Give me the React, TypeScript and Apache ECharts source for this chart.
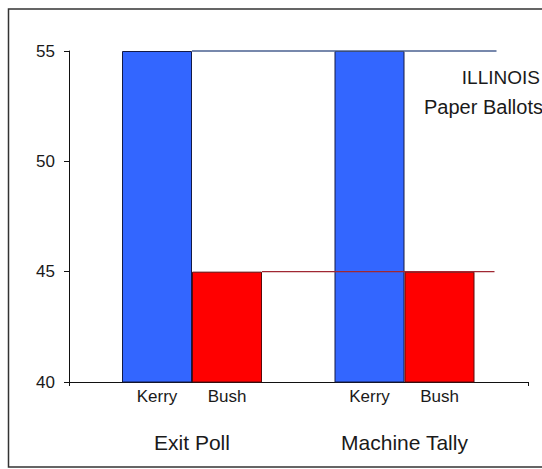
import React, { useEffect, useRef } from "react";
import * as echarts from "echarts";

const categories = ["Exit Poll", "Machine Tally"];
const seriesNames = ["Kerry", "Bush"];
const kerryValues = [55, 55];
const bushValues = [45, 45];
const yMin = 40;
const yMax = 55;
const yStep = 5;
const noteLines = ["ILLINOIS", "Paper Ballots"];

const FONT = "'Liberation Sans', Arial, sans-serif";
const TEXT = "#1a1a1a";

export default function App() {
  const ref = useRef<HTMLDivElement>(null);

  useEffect(() => {
    if (!ref.current) return;
    const chart = echarts.init(ref.current, undefined, { renderer: "svg" });
    const barLabel = {
      show: true,
      position: "bottom",
      distance: 5,
      formatter: "{a}",
      fontSize: 17,
      color: TEXT,
      fontFamily: FONT,
    };
    chart.setOption({
      animation: false,
      textStyle: { fontFamily: FONT },
      grid: [
        { left: 69, right: 14, top: 51, bottom: 87 },
        { left: 85.75, right: 31.25, top: 51, bottom: 87 },
      ],
      xAxis: [
        {
          gridIndex: 0,
          type: "value",
          min: 0,
          max: 1,
          interval: 1,
          axisLine: { show: true, lineStyle: { color: "#111", width: 1 } },
          axisTick: { show: true, length: 4, lineStyle: { color: "#111" } },
          axisLabel: { show: false },
          splitLine: { show: false },
        },
        {
          gridIndex: 1,
          type: "category",
          data: categories,
          axisLine: { show: false },
          axisTick: { show: false },
          axisLabel: { margin: 50, fontSize: 21, color: TEXT, fontFamily: FONT },
          splitLine: { show: false },
        },
      ],
      yAxis: [
        {
          gridIndex: 0,
          type: "value",
          min: yMin,
          max: yMax,
          interval: yStep,
          axisLine: { show: true, lineStyle: { color: "#111", width: 1 } },
          axisTick: { show: true, length: 5, lineStyle: { color: "#111" } },
          axisLabel: { fontSize: 17, margin: 14, color: TEXT, fontFamily: FONT },
          splitLine: { show: false },
        },
        { gridIndex: 1, type: "value", min: yMin, max: yMax, show: false },
      ],
      series: [
        {
          type: "bar",
          name: seriesNames[0],
          xAxisIndex: 1,
          yAxisIndex: 1,
          data: kerryValues,
          barWidth: 70,
          barGap: "0%",
          itemStyle: { color: "#3366ff", borderColor: "#141a45", borderWidth: 1 },
          label: barLabel,
        },
        {
          type: "bar",
          name: seriesNames[1],
          xAxisIndex: 1,
          yAxisIndex: 1,
          data: bushValues,
          barWidth: 70,
          barGap: "0%",
          itemStyle: { color: "#ff0000", borderColor: "#5a0a0a", borderWidth: 1 },
          label: barLabel,
        },
      ],
    });

    const c0 = chart.convertToPixel({ xAxisIndex: 1 }, categories[0]) as number;
    const c1 = chart.convertToPixel({ xAxisIndex: 1 }, categories[1]) as number;
    const yK = chart.convertToPixel({ yAxisIndex: 1 }, kerryValues[0]) as number;
    const yB = chart.convertToPixel({ yAxisIndex: 1 }, bushValues[0]) as number;

    chart.setOption({
      graphic: [
        {
          type: "rect",
          shape: { x: 8.5, y: 9, width: 620, height: 458 },
          style: { fill: "none", stroke: "#333", lineWidth: 1.5 },
          silent: true,
          z: 0,
        },
        {
          type: "line",
          shape: { x1: c0, y1: yK, x2: c1 + 70 + 22, y2: yK },
          style: { stroke: "#4a6090", lineWidth: 1.3 },
          z: 100,
        },
        {
          type: "line",
          shape: { x1: c0 + 70, y1: yB, x2: c1 + 70 + 20, y2: yB },
          style: { stroke: "#a02833", lineWidth: 1.3 },
          z: 100,
        },
        {
          type: "text",
          x: 540,
          y: 77,
          style: {
            text: noteLines[0],
            fontSize: 19,
            fontFamily: FONT,
            fill: TEXT,
            textAlign: "right",
            textVerticalAlign: "middle",
          },
          z: 100,
        },
        {
          type: "text",
          x: 543,
          y: 107,
          style: {
            text: noteLines[1],
            fontSize: 20,
            fontFamily: FONT,
            fill: TEXT,
            textAlign: "right",
            textVerticalAlign: "middle",
          },
          z: 100,
        },
      ],
    });

    return () => chart.dispose();
  }, []);

  return (
    <div
      ref={ref}
      style={{ position: "absolute", left: 0, top: 0, width: 542, height: 469, background: "#fff" }}
    />
  );
}
